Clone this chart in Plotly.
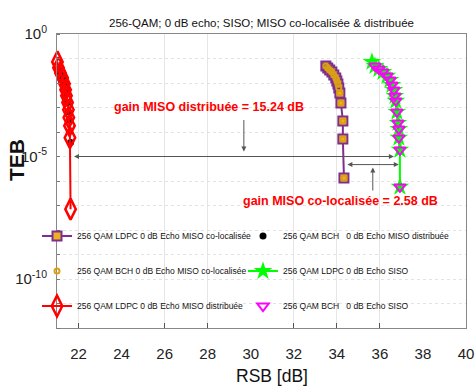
import plotly.graph_objects as go

FONT = "Liberation Sans, Arial, sans-serif"

# ---- data (RSB in dB, TEB as BER) ----
x_ldpc_dist = [21.02, 21.07, 21.16, 21.26, 21.35, 21.40, 21.44, 21.49, 21.53, 21.55, 21.58, 21.60, 21.63]
y_ldpc_dist = [10**-1.14, 10**-1.38, 10**-1.59, 10**-1.79, 10**-2.03, 10**-2.28, 10**-2.52,
               10**-2.80, 10**-3.09, 10**-3.41, 10**-3.74, 10**-4.23, 10**-7.15]

x_bch_dist = [21.07, 21.16, 21.26, 21.35, 21.44, 21.49, 21.53, 21.58, 21.63]
y_bch_dist = [10**-1.46, 10**-1.63, 10**-1.79, 10**-2.07, 10**-2.40, 10**-2.80, 10**-3.17, 10**-3.50, 10**-4.43]

x_ldpc_coloc = [33.49, 33.58, 33.67, 33.77, 33.86, 33.95, 34.00, 34.05, 34.09, 34.14, 34.19, 34.28, 34.28, 34.33]
y_ldpc_coloc = [10**-1.31, 10**-1.39, 10**-1.47, 10**-1.55, 10**-1.67, 10**-1.80, 10**-1.92, 10**-2.04,
                10**-2.20, 10**-2.41, 10**-2.82, 10**-3.55, 10**-4.29, 10**-5.88]

x_bch_coloc = [33.49, 33.58, 33.67, 33.77, 33.86, 33.95, 34.00, 34.05, 34.09, 34.14, 34.19, 34.28, 34.28, 34.33]
y_bch_coloc = [10**-1.31, 10**-1.39, 10**-1.47, 10**-1.55, 10**-1.67, 10**-1.80, 10**-1.92, 10**-2.04,
               10**-2.20, 10**-2.41, 10**-2.82, 10**-3.55, 10**-4.29, 10**-5.88]

x_ldpc_siso = [35.63, 35.77, 35.95, 36.14, 36.33, 36.47, 36.56, 36.65, 36.70, 36.74, 36.79, 36.84,
               36.88, 36.88, 36.93, 36.93]
y_ldpc_siso = [10**-1.14, 10**-1.31, 10**-1.43, 10**-1.55, 10**-1.71, 10**-1.88, 10**-2.08, 10**-2.29,
               10**-2.53, 10**-2.73, 10**-3.18, 10**-3.63, 10**-3.88, 10**-4.24, 10**-4.73, 10**-6.24]

x_bch_siso = [35.77, 35.95, 36.14, 36.33, 36.47, 36.56, 36.65, 36.70, 36.74, 36.79, 36.84,
              36.88, 36.88, 36.93, 36.93]
y_bch_siso = [10**-1.31, 10**-1.43, 10**-1.55, 10**-1.71, 10**-1.88, 10**-2.08, 10**-2.29,
              10**-2.53, 10**-2.73, 10**-3.18, 10**-3.63, 10**-3.88, 10**-4.24, 10**-4.73, 10**-6.24]

x_ticks = [22, 24, 26, 28, 30, 32, 34, 36, 38, 40]
x_grid = [22, 26, 28, 32, 34, 36]
y_ticks = [1, 1e-5, 1e-10]
y_ticktext = ["10<sup>0</sup>", "10<sup>-5</sup>", "10<sup>-10</sup>"]
y_grid = [10**-k for k in range(0, 13)]

NB = "\u00a0"
names = {
    "ldpc_coloc": "256 QAM LDPC 0 dB Echo MISO co-localisée",
    "bch_dist": f"256 QAM BCH{NB}{NB}{NB}0 dB Echo MISO distribuée",
    "bch_coloc": "256 QAM BCH 0 dB Echo MISO co-localisée",
    "ldpc_siso": "256 QAM LDPC 0 dB Echo SISO",
    "ldpc_dist": "256 QAM LDPC 0 dB Echo MISO distribuée",
    "bch_siso": f"256 QAM BCH{NB}{NB}{NB}0 dB Echo SISO",
}

PURPLE = "#7E2F8E"
ORANGE = "#EDB120"

fig = go.Figure()
fig.add_trace(go.Scatter(x=x_ldpc_coloc, y=y_ldpc_coloc, name=names["ldpc_coloc"], mode="lines+markers",
                         line=dict(color=PURPLE, width=2), cliponaxis=False,
                         marker=dict(symbol="square", size=9, color=ORANGE, line=dict(color=PURPLE, width=2)),
                         legend="legend"))
fig.add_trace(go.Scatter(x=x_bch_dist, y=y_bch_dist, name=names["bch_dist"], mode="markers", cliponaxis=False,
                         marker=dict(symbol="circle", size=7, color="black"), legend="legend"))
fig.add_trace(go.Scatter(x=x_bch_coloc, y=y_bch_coloc, name=names["bch_coloc"], mode="markers", cliponaxis=False,
                         marker=dict(symbol="circle-open", size=5, color="#D9A015", line=dict(width=2)),
                         legend="legend2"))
fig.add_trace(go.Scatter(x=x_ldpc_siso, y=y_ldpc_siso, name=names["ldpc_siso"], mode="lines+markers",
                         line=dict(color="#00FF00", width=2), cliponaxis=False,
                         marker=dict(symbol="star", size=14, color="#00FF00"), legend="legend2"))
fig.add_trace(go.Scatter(x=x_ldpc_dist, y=y_ldpc_dist, name=names["ldpc_dist"], mode="lines+markers",
                         line=dict(color="#FF0000", width=2), cliponaxis=False,
                         marker=dict(symbol="diamond-tall-open", size=15, color="#FF0000", line=dict(width=2.5)),
                         legend="legend3"))
fig.add_trace(go.Scatter(x=x_bch_siso, y=y_bch_siso, name=names["bch_siso"], mode="markers", cliponaxis=False,
                         marker=dict(symbol="triangle-down-open", size=10, color="#FF00FF", line=dict(width=2)),
                         legend="legend3"))

W, H = 475, 390
L, R, T, B = 57, 466, 34, 328
PW, PH = R - L, B - T


def xfrac(px):
    return (px - L) / PW


def yfrac(py):
    return (B - py) / PH


arrow = dict(showarrow=True, axref="x", ayref="y", xref="x", yref="y", text="",
             arrowhead=2, arrowsize=1, arrowwidth=1, arrowcolor="#555555")
annotations = [
    dict(x=36.65, y=-5, ax=21.72, ay=-5, arrowside="end+start", **arrow),
    dict(x=36.88, y=-5.33, ax=34.42, ay=-5.33, arrowside="end+start", **arrow),
    dict(x=29.68, y=-4.8, ax=29.68, ay=-3.45, **arrow),
    dict(x=35.67, y=-5.45, ax=35.67, ay=-6.45, **arrow),
    dict(x=28.07, y=-2.97, xref="x", yref="y", showarrow=False, text="gain MISO distribuée = 15.24 dB",
         font=dict(family=FONT, size=12.5, color="#FF0000", weight="bold")),
    dict(x=34.19, y=-6.83, xref="x", yref="y", showarrow=False, text="gain MISO co-localisée = 2.58 dB",
         font=dict(family=FONT, size=12.5, color="#FF0000", weight="bold")),
    dict(x=xfrac(16), y=yfrac(160), xref="paper", yref="paper", showarrow=False, text="TEB", textangle=-90,
         xanchor="center", yanchor="middle",
         font=dict(family=FONT, size=21, color="#111111", weight="bold")),
    dict(x=xfrac(272), y=yfrac(376), xref="paper", yref="paper", showarrow=False, text="RSB [dB]",
         xanchor="center", yanchor="middle",
         font=dict(family=FONT, size=17.5, color="#111111")),
]

leg = dict(orientation="h", bgcolor="rgba(0,0,0,0)", entrywidth=161, entrywidthmode="pixels",
           font=dict(family=FONT, size=8.5, color="#111111"), xref="container", x=37 / W,
           xanchor="left", yanchor="middle", itemwidth=30, borderwidth=0, tracegroupgap=0)

fig.update_layout(
    width=W, height=H,
    margin=dict(l=L, r=W - R, t=T, b=H - B, autoexpand=False),
    paper_bgcolor="white", plot_bgcolor="white",
    title=dict(text="256-QAM; 0 dB echo; SISO; MISO co-localisée & distribuée", x=(L + R) / 2 / W,
               xanchor="center", y=1 - 23 / H, yanchor="middle",
               font=dict(family=FONT, size=11.5, color="#111111")),
    showlegend=True,
    legend=dict(leg, y=yfrac(236)),
    legend2=dict(leg, y=yfrac(271)),
    legend3=dict(leg, y=yfrac(306)),
    annotations=annotations,
)

fig.update_xaxes(range=[21, 40], tickvals=x_ticks, ticktext=[str(v) for v in x_ticks], ticks="", showgrid=False,
                 showline=True, linecolor="#888888", linewidth=1, mirror=True, zeroline=False, automargin=False,
                 ticklabelstandoff=12,
                 tickfont=dict(family=FONT, size=15, color="#222222"),
                 minor=dict(tickvals=x_grid, showgrid=True, gridcolor="#E6E6E6", gridwidth=1,
                            ticks="inside", ticklen=5, tickcolor="#555555"))
fig.update_yaxes(type="log", range=[-12, 0], tickvals=y_ticks, ticktext=y_ticktext, ticks="", showgrid=False,
                 showline=True, linecolor="#888888", linewidth=1, mirror=True, automargin=False,
                 zeroline=False, ticklabelstandoff=6,
                 tickfont=dict(family=FONT, size=15, color="#222222"),
                 minor=dict(tickvals=y_grid, showgrid=True, gridcolor="#E3E3E3", griddash="dot", gridwidth=1,
                            ticks="inside", ticklen=3, tickcolor="#777777"))

fig.write_html("out.html", config={"displayModeBar": False},
               post_script="document.body.style.margin='0';document.body.style.padding='0';")
